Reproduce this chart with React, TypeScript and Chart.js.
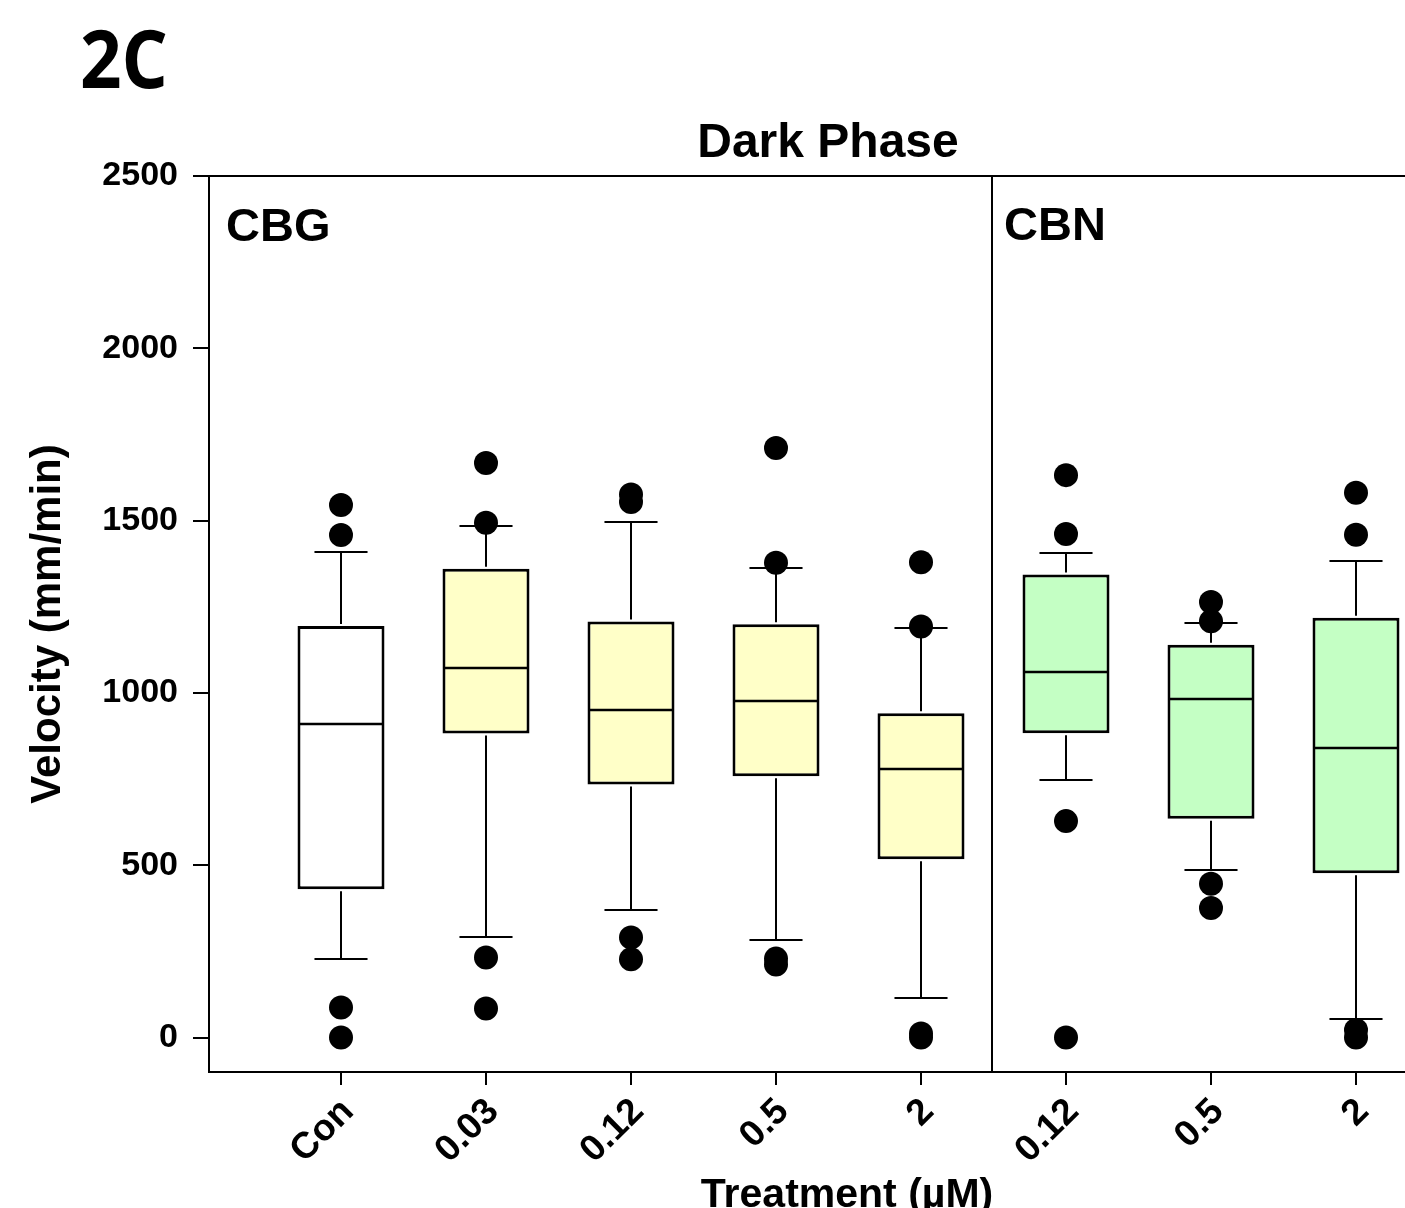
import React, { useEffect, useRef } from "react";
import { Chart, registerables } from "chart.js";

Chart.register(...registerables);

// ---- data ----
const categories = ["Con", "0.03", "0.12", "0.5", "2", "0.12", "0.5", "2"];
const positions = [1, 2, 3, 4, 5, 6, 7, 8];
const groupLabels = ["CBG", "CBN"];
const groupDivider = 5.49;
const q1 = [430, 882, 734, 758, 517, 883, 635, 477];
const medians = [909, 1073, 951, 977, 778, 1062, 982, 840];
const q3 = [1194, 1360, 1207, 1199, 941, 1344, 1140, 1218];
const whiskerLow = [229, 293, 369, 282, 116, 747, 485, 55];
const whiskerHigh = [1409, 1484, 1497, 1362, 1188, 1405, 1204, 1384];
const outliers = [
  [1545, 1458, 87, 0],
  [1667, 1494, 232, 84],
  [1576, 1554, 290, 227],
  [1711, 1378, 229, 212],
  [1379, 1193, 12, 0],
  [1632, 1461, 628, 0],
  [1264, 1208, 446, 376],
  [1581, 1459, 22, 0],
];
const yTicks = [0, 500, 1000, 1500, 2000, 2500];
const boxColors = [
  "#FFFFFF",
  "#FFFFC8",
  "#FFFFC8",
  "#FFFFC8",
  "#FFFFC8",
  "#C4FFC4",
  "#C4FFC4",
  "#C4FFC4",
];
const panelLabel = "2C";
const chartTitle = "Dark Phase";
const xTitle = "Treatment (\u00B5M)";
const yTitle = "Velocity (mm/min)";

const FONT = '"Liberation Sans", Arial, sans-serif';

const extrasPlugin = {
  id: "boxExtras",
  afterDatasetDraw(chart: any, args: any) {
    if (args.meta.type !== "bar") return;
    const ctx = chart.ctx;
    const xs = chart.scales.x;
    const ys = chart.scales.y;
    ctx.save();
    ctx.strokeStyle = "#000";
    ctx.lineWidth = 2;
    args.meta.data.forEach((bar: any, i: number) => {
      const cx = Math.round(xs.getPixelForValue(positions[i]));
      const half = bar.width / 2;
      const cap = half * 0.61;
      const seg = (x1: number, y1: number, x2: number, y2: number) => {
        ctx.beginPath();
        ctx.moveTo(x1, y1);
        ctx.lineTo(x2, y2);
        ctx.stroke();
      };
      const yMed = Math.round(ys.getPixelForValue(medians[i]));
      ctx.lineWidth = 2.5;
      seg(cx - half + 2, yMed, cx + half - 2, yMed);
      ctx.lineWidth = 2;
      const yQ3 = ys.getPixelForValue(q3[i]);
      const yQ1 = ys.getPixelForValue(q1[i]);
      const yHi = Math.round(ys.getPixelForValue(whiskerHigh[i]));
      const yLo = Math.round(ys.getPixelForValue(whiskerLow[i]));
      seg(cx, yQ3 - 2, cx, yHi);
      seg(cx - cap, yHi, cx + cap, yHi);
      seg(cx, yQ1 + 2, cx, yLo);
      seg(cx - cap, yLo, cx + cap, yLo);
    });
    ctx.restore();
  },
  afterDraw(chart: any) {
    const ctx = chart.ctx;
    const { left, right, top, bottom } = chart.chartArea;
    const xs = chart.scales.x;
    ctx.save();
    ctx.strokeStyle = "#000";
    ctx.lineWidth = 2;
    // top frame line
    ctx.beginPath();
    ctx.moveTo(left - 1, top);
    ctx.lineTo(right, top);
    ctx.stroke();
    // group divider
    const dx = Math.round(xs.getPixelForValue(groupDivider));
    ctx.beginPath();
    ctx.moveTo(dx, top);
    ctx.lineTo(dx, bottom);
    ctx.stroke();

    ctx.fillStyle = "#000";
    ctx.textBaseline = "alphabetic";
    // group labels
    ctx.font = `bold 47px ${FONT}`;
    ctx.textAlign = "left";
    ctx.fillText(groupLabels[0], left + 17, top + 65);
    ctx.fillText(groupLabels[1], dx + 12, top + 64);
    // chart title
    ctx.font = `bold 48px ${FONT}`;
    ctx.textAlign = "center";
    ctx.fillText(chartTitle, 828, 157);
    // x title
    ctx.font = `bold 41px ${FONT}`;
    ctx.fillText(xTitle, 847, 1207);
    // panel label
    ctx.font = `bold 80px "Open Sans", "Noto Sans", sans-serif`;
    ctx.textAlign = "left";
    const w = ctx.measureText(panelLabel).width;
    ctx.translate(80, 88);
    ctx.scale(88 / w, 1);
    ctx.fillText(panelLabel, 0, 0);
    ctx.restore();
  },
};

export default function App() {
  const ref = useRef<HTMLCanvasElement | null>(null);

  useEffect(() => {
    if (!ref.current) return;
    const boxData = positions.map((p, i) => ({ x: p, y: [q1[i], q3[i]] }));
    const pointData: { x: number; y: number }[] = [];
    outliers.forEach((list, i) => list.forEach((v) => pointData.push({ x: positions[i], y: v })));

    const chart = new Chart(ref.current, {
      type: "bar",
      data: {
        datasets: [
          {
            type: "scatter",
            data: pointData,
            backgroundColor: "#000",
            borderColor: "#000",
            pointRadius: 12,
            pointHoverRadius: 12,
            borderWidth: 0,
            order: 0,
          } as any,
          {
            type: "bar",
            data: boxData as any,
            backgroundColor: boxColors,
            borderColor: "#000",
            borderWidth: 3,
            borderSkipped: false,
            categoryPercentage: 0.6,
            barPercentage: 1.0,
            order: 1,
          } as any,
        ],
      },
      plugins: [extrasPlugin],
      options: {
        animation: false,
        responsive: false,
        devicePixelRatio: 1,
        layout: { autoPadding: false, padding: { top: 176, left: 0, right: 0, bottom: 0 } },
        plugins: {
          legend: { display: false },
          tooltip: { enabled: false },
          title: { display: false },
        },
        scales: {
          x: {
            type: "linear",
            offset: false,
            min: 1 - 132 / 145,
            max: 1 + 1064 / 145,
            afterBuildTicks: (scale: any) => {
              scale.ticks = positions.map((v) => ({ value: v }));
            },
            afterFit: (scale: any) => {
              scale.height = 136;
              scale.paddingLeft = 0;
              scale.paddingRight = 0;
            },
            ticks: {
              autoSkip: false,
              maxRotation: 45,
              minRotation: 45,
              padding: 5,
              labelOffset: 7,
              color: "#000",
              font: { family: FONT, size: 37, weight: "bold" },
              callback: (value: any) => {
                const idx = positions.indexOf(Number(value));
                return idx >= 0 ? categories[idx] : "";
              },
            },
            grid: {
              offset: false,
              drawOnChartArea: false,
              drawTicks: true,
              tickLength: 13,
              color: "#000",
              lineWidth: 2,
            },
            border: { display: true, color: "#000", width: 2 },
          },
          y: {
            type: "linear",
            min: -100,
            max: 2500,
            afterBuildTicks: (scale: any) => {
              scale.ticks = yTicks.map((v) => ({ value: v }));
            },
            afterFit: (scale: any) => {
              scale.width = 209;
            },
            ticks: {
              padding: 15,
              color: "#000",
              font: { family: FONT, size: 34, weight: "bold" },
              callback: (value: any) => String(value),
            },
            grid: {
              drawOnChartArea: false,
              drawTicks: true,
              tickLength: 16,
              color: "#000",
              lineWidth: 2,
            },
            border: { display: true, color: "#000", width: 2 },
            title: {
              display: true,
              text: yTitle,
              color: "#000",
              font: { family: FONT, size: 42, weight: "bold" },
              padding: { top: 23, bottom: 0 },
            },
          },
        },
      } as any,
    });
    return () => chart.destroy();
  }, []);

  return (
    <div
      style={{
        position: "absolute",
        left: 0,
        top: 0,
        width: 1405,
        height: 1208,
        overflow: "hidden",
        background: "#fff",
      }}
    >
      <canvas ref={ref} width={1405} height={1208} style={{ width: 1405, height: 1208, display: "block" }} />
    </div>
  );
}
